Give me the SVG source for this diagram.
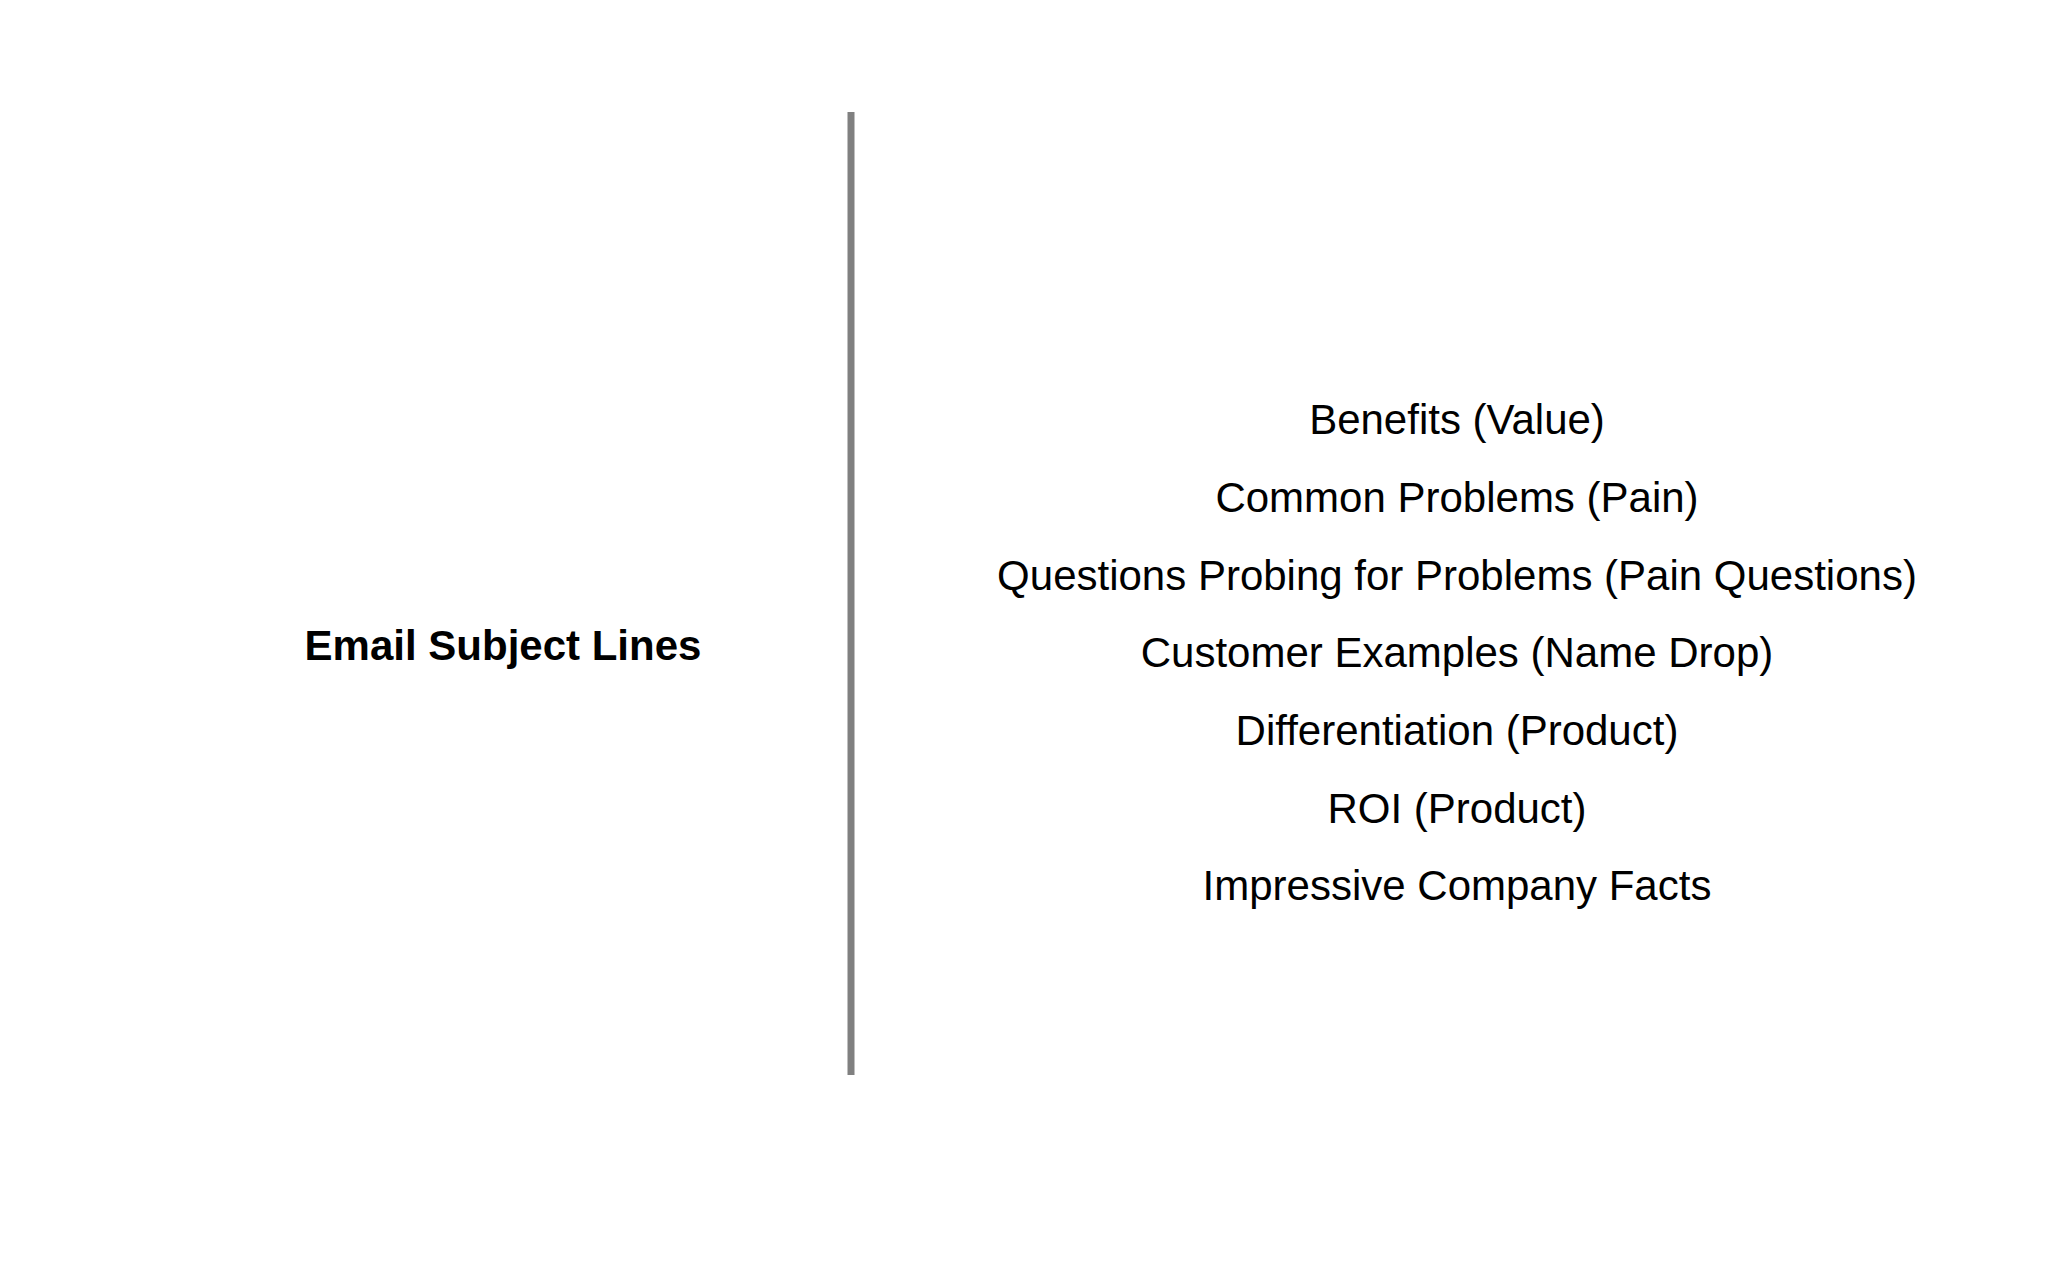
<svg xmlns="http://www.w3.org/2000/svg" width="2048" height="1280" viewBox="0 0 2048 1280">
<style>
.t{font-family:"Liberation Sans",Arial,sans-serif;fill:#000;text-anchor:middle}
.item{font-size:42px}
</style>
<rect width="2048" height="1280" fill="#fff"/>
<g id="connectors"><line x1="851" y1="112" x2="851" y2="1075" stroke="#808080" stroke-width="7"/></g>
<g id="title"><text class="t" x="503" y="660" font-size="42" font-weight="bold">Email Subject Lines</text></g>
<g id="items">
<text class="t item" x="1457" y="434">Benefits (Value)</text>
<text class="t item" x="1457" y="512">Common Problems (Pain)</text>
<text class="t item" x="1457" y="590">Questions Probing for Problems (Pain Questions)</text>
<text class="t item" x="1457" y="667">Customer Examples (Name Drop)</text>
<text class="t item" x="1457" y="745">Differentiation (Product)</text>
<text class="t item" x="1457" y="823">ROI (Product)</text>
<text class="t item" x="1457" y="900">Impressive Company Facts</text>
</g>
</svg>
